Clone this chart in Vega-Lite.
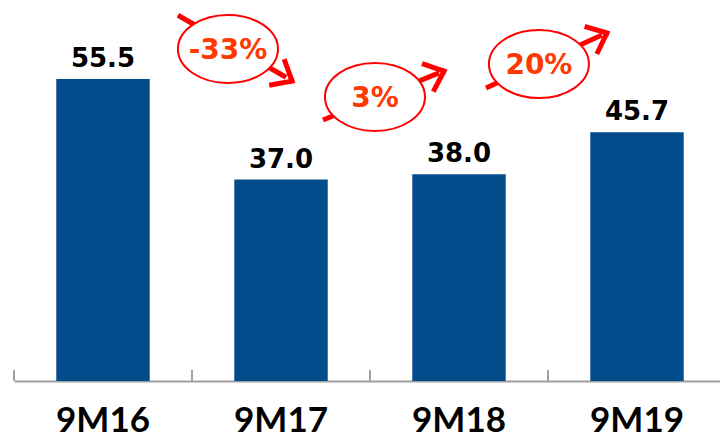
{
  "$schema": "https://vega.github.io/schema/vega-lite/v6.json",
  "width": 712,
  "height": 381,
  "autosize": "none",
  "padding": {"left": 14, "top": 0, "right": 0, "bottom": 56},
  "background": "white",
  "config": {"view": {"stroke": null}, "font": "Lato"},
  "datasets": {
    "bars": [
      {"period": "9M16", "value": 55.5},
      {"period": "9M17", "value": 37.0},
      {"period": "9M18", "value": 38.0},
      {"period": "9M19", "value": 45.7}
    ],
    "growth": [
      {"label": "-33%", "cx": 1.202, "cy": 61.0, "x0": 0.921, "y0": 67.2, "x1": 1.528, "y1": 55.8, "tx": 1.562, "ty": 55.1, "dir": 30},
      {"label": "3%", "cx": 2.028, "cy": 52.18, "x0": 1.736, "y0": 47.95, "x1": 2.388, "y1": 56.6, "tx": 2.416, "ty": 56.95, "dir": -22},
      {"label": "20%", "cx": 2.949, "cy": 58.24, "x0": 2.652, "y0": 53.83, "x1": 3.303, "y1": 63.57, "tx": 3.331, "ty": 63.93, "dir": -24}
    ],
    "boundaries": [
      {"b": 0, "lo": 0, "hi": 2.0},
      {"b": 1, "lo": 0, "hi": 2.0},
      {"b": 2, "lo": 0, "hi": 2.0},
      {"b": 3, "lo": 0, "hi": 2.0}
    ]
  },
  "layer": [
    {
      "data": {"name": "bars"},
      "encoding": {
        "x": {
          "field": "period", "type": "nominal", "sort": null,
          "scale": {"paddingInner": 0.475, "paddingOuter": 0.2375},
          "axis": {
            "title": null, "labelAngle": 0,
            "domainColor": "#A0A0A0", "domainWidth": 2,
            "ticks": false,
            "labelFont": "Lato", "labelFontSize": 35, "labelFontWeight": "bold", "labelColor": "black",
            "labelPadding": 22
          }
        },
        "y": {"field": "value", "type": "quantitative", "scale": {"domain": [0, 70]}, "axis": null}
      },
      "layer": [
        {"mark": {"type": "bar", "color": "#034C8C"}},
        {
          "mark": {"type": "text", "dy": -12, "baseline": "alphabetic", "fontSize": 26, "fontWeight": "bold", "color": "black", "font": "DejaVu Sans"},
          "encoding": {"text": {"field": "value", "type": "quantitative", "format": ".1f"}}
        }
      ]
    },
    {
      "layer": [
        {
          "data": {"name": "boundaries"},
          "mark": {"type": "rule", "stroke": "#A0A0A0", "strokeWidth": 2},
          "encoding": {
            "x": {"field": "b", "type": "quantitative", "scale": {"domain": [0, 4]}, "axis": null},
            "y": {"field": "lo", "type": "quantitative", "scale": {"domain": [0, 70]}, "axis": null},
            "y2": {"field": "hi"}
          }
        },
        {
          "data": {"name": "growth"},
          "mark": {"type": "rule", "stroke": "#FF0000", "strokeWidth": 5},
          "encoding": {
            "x": {"field": "x0", "type": "quantitative", "scale": {"domain": [0, 4]}, "axis": null},
            "x2": {"field": "x1"},
            "y": {"field": "y0", "type": "quantitative", "scale": {"domain": [0, 70]}, "axis": null},
            "y2": {"field": "y1"}
          }
        },
        {
          "data": {"name": "growth"},
          "mark": {"type": "point", "shape": "M-1,0A1,0.68,0,1,1,1,0A1,0.68,0,1,1,-1,0Z", "size": 10000, "filled": true, "fill": "white", "fillOpacity": 1, "stroke": "#FF0000", "strokeOpacity": 1, "strokeWidth": 2, "opacity": 1},
          "encoding": {
            "x": {"field": "cx", "type": "quantitative", "scale": {"domain": [0, 4]}, "axis": null},
            "y": {"field": "cy", "type": "quantitative", "scale": {"domain": [0, 70]}, "axis": null}
          }
        },
        {
          "data": {"name": "growth"},
          "mark": {"type": "text", "fontSize": 28, "fontWeight": "bold", "color": "#FF3A00", "font": "DejaVu Sans", "baseline": "middle", "align": "center", "dy": 2},
          "encoding": {
            "x": {"field": "cx", "type": "quantitative", "scale": {"domain": [0, 4]}, "axis": null},
            "y": {"field": "cy", "type": "quantitative", "scale": {"domain": [0, 70]}, "axis": null},
            "text": {"field": "label"}
          }
        },
        {
          "data": {"name": "growth"},
          "mark": {"type": "point", "shape": "M0,0L-1,-0.85M0,0L-1,0.85", "size": 1000, "filled": false, "stroke": "#FF0000", "strokeOpacity": 1, "strokeWidth": 5, "strokeCap": "square", "opacity": 1},
          "encoding": {
            "x": {"field": "tx", "type": "quantitative", "scale": {"domain": [0, 4]}, "axis": null},
            "y": {"field": "ty", "type": "quantitative", "scale": {"domain": [0, 70]}, "axis": null},
            "angle": {"field": "dir", "type": "quantitative", "scale": null}
          }
        }
      ]
    }
  ],
  "resolve": {"scale": {"x": "independent"}}
}
